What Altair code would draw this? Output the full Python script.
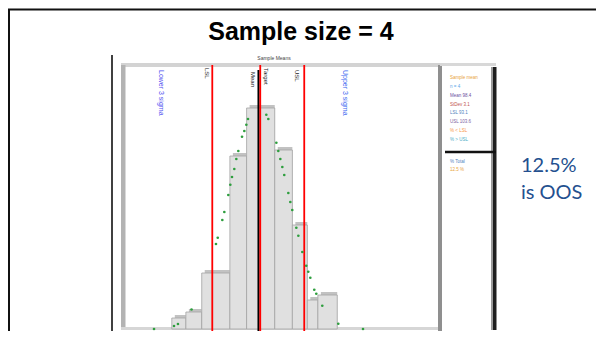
import altair as alt
import pandas as pd

bin_start = [88.5, 90.1, 91.9, 95.1, 97.0, 100.2, 102.2, 103.9, 105.1]
bin_end = [90.1, 91.9, 95.1, 97.0, 100.2, 102.2, 103.9, 105.1, 107.3]
counts = [5.5, 8.5, 28, 86.5, 110.5, 89.5, 52, 14.5, 17]

curve_x = [86.48, 88.75, 89.20, 90.74, 93.52, 93.72, 94.24, 94.47, 94.92, 95.15,
           95.34, 95.60, 95.83, 96.06, 96.48, 96.74, 96.97, 97.16, 99.24, 99.47,
           100.38, 100.60, 100.83, 101.06, 101.28, 101.74, 101.97, 102.19, 102.65,
           102.88, 103.33, 103.78, 104.01, 104.24, 104.69, 104.92, 105.60, 107.42,
           110.23]
curve_y = [0, 1.5, 2.5, 9.75, 42.5, 45.65, 54.5, 58.5, 67, 72.15,
           76, 80, 85, 89, 96.15, 99, 102.15, 105, 107.15, 105,
           93.15, 89, 85, 81, 77, 68, 63.5, 59.5, 50.65,
           46.65, 38.5, 31.65, 28.65, 25.65, 19.65, 17.65, 11.65, 2.65,
           0]

spec_labels = ["LSL", "Target", "USL"]
spec_values = [93.1, 98.55, 103.55]
mean_labels = ["Mean"]
mean_values = [98.35]
sigma_labels = ["Lower 3 sigma", "Upper 3 sigma"]
sigma_values = [87.3, 108.2]

title_text = "Sample size = 4"
note_lines = ["12.5%", "is OOS"]
legend_lines = ["Sample mean", "n = 4", "Mean 98.4", "StDev 3.1", "LSL 93.1",
                "USL 103.6", "% < LSL", "% > USL"]
legend_lines2 = ["% Total", "12.5 %"]
legend_colors = ["#e8a33c", "#5aa8e8", "#6b4f9e", "#c0504d", "#4f81bd",
                 "#8064a2", "#f79646", "#4bacc6"]

# ---- tables ----
bars = pd.DataFrame({"start": bin_start, "end": bin_end, "count": counts})
curve = pd.DataFrame({"x": curve_x, "y": curve_y})
specs = pd.DataFrame({"label": spec_labels, "value": spec_values})
means = pd.DataFrame({"label": mean_labels, "value": mean_values})
sigmas = pd.DataFrame({"label": sigma_labels, "value": sigma_values})
one = pd.DataFrame({"d": [0]})
leg = pd.DataFrame({"t": legend_lines, "i": list(range(len(legend_lines))),
                    "c": legend_colors})

xs = alt.Scale(domain=[69.886, 136.705], nice=False, zero=False)
ys = alt.Scale(domain=[-1, 160.5], nice=False, zero=False)

base1 = alt.Chart(one)


def vrect(x1, x2, y1, y2, color):
    return base1.mark_rect(color=color).encode(
        x=alt.value(x1), x2=alt.value(x2), y=alt.value(y1), y2=alt.value(y2))


def vrule(x1, x2, y1, y2, color, w):
    return base1.mark_rule(color=color, strokeWidth=w).encode(
        x=alt.value(x1), x2=alt.value(x2), y=alt.value(y1), y2=alt.value(y2))


def vtext(txt, x, y, **kw):
    return base1.mark_text(**kw).encode(
        x=alt.value(x), y=alt.value(y), text=alt.value(txt))


# slide frame
slide_top = vrule(0, 588, 1.5, 1.5, "#111111", 2)
slide_left = vrule(1, 1, 1, 323, "#111111", 2)

title = vtext(title_text, 293, 32, font="Liberation Sans", fontWeight="bold",
              fontSize=25, color="#000000", align="center", baseline="alphabetic")

# histogram 3D frame
axis_line = vrule(104, 104, 47, 323, "#000000", 1.5)
wall_left = vrect(113, 117.5, 57, 321, "#b3b3b3")
wall_top = vrect(113, 432, 55, 59, "#d3d3d3")
floor = vrect(113, 432, 319, 322, "#d6d6d6")
wall_right = vrect(430, 434, 57, 323, "#8f8f8f")
panel_top = vrect(432, 488, 55, 58, "#d8d8d8")
panel_shade = vrect(483, 485, 59, 322, "#9a9a9a")
panel_right = vrect(485, 488.5, 59, 322, "#1e1e1e")
panel_line = vrule(437, 488, 144, 144, "#111111", 2.5)

small_title = vtext("Sample Means", 266, 50, fontSize=5, color="#444444",
                    align="center")

# bars
shadow = alt.Chart(bars).mark_bar(color="#c2c2c2", xOffset=3, yOffset=-3).encode(
    x=alt.X("start:Q", scale=xs, axis=None),
    x2="end:Q",
    y=alt.Y("count:Q", scale=ys, axis=None),
    y2=alt.datum(0),
)
main_bars = alt.Chart(bars).mark_bar(color="#e0e0e0", stroke="#a3a3a3",
                                     strokeWidth=0.8).encode(
    x=alt.X("start:Q", scale=xs, axis=None),
    x2="end:Q",
    y=alt.Y("count:Q", scale=ys, axis=None),
    y2=alt.datum(0),
)

# reference lines
mean_rule = alt.Chart(means).mark_rule(color="#000000", strokeWidth=2).encode(
    x=alt.X("value:Q", scale=xs, axis=None), y=alt.value(62), y2=alt.value(323))
spec_rule = alt.Chart(specs).mark_rule(color="#ff0000", strokeWidth=1.8).encode(
    x=alt.X("value:Q", scale=xs, axis=None), y=alt.value(57), y2=alt.value(323))

points = alt.Chart(curve).mark_circle(size=7, color="#2e9e3e", opacity=1).encode(
    x=alt.X("x:Q", scale=xs, axis=None),
    y=alt.Y("y:Q", scale=ys, axis=None),
)


# tiny rotated labels
def vlabel(df, label, dx, color, size, y0):
    return alt.Chart(df).transform_filter(alt.datum.label == label).mark_text(
        angle=90, align="left", baseline="middle", fontSize=size, color=color,
        dy=-dx).encode(
        x=alt.X("value:Q", scale=xs, axis=None), y=alt.value(y0),
        text="label:N")


lab_lsl = vlabel(specs, "LSL", -5, "#222222", 6, 60)
lab_tgt = vlabel(specs, "Target", 6, "#222222", 6, 60)
lab_usl = vlabel(specs, "USL", -7, "#222222", 6, 62)
lab_mean = vlabel(means, "Mean", -5, "#222222", 6, 64)
lab_sig1 = vlabel(sigmas, "Lower 3 sigma", 0, "#5050f0", 7, 62)
lab_sig2 = vlabel(sigmas, "Upper 3 sigma", 0, "#3a66f0", 7, 62)

legend_text = alt.Chart(leg).mark_text(fontSize=4.5, align="left").encode(
    x=alt.value(442),
    y=alt.Y("i:O", scale=alt.Scale(range=[66, 136]), axis=None),
    text="t:N",
    color=alt.Color("c:N", scale=None),
)
legend_t1 = vtext(legend_lines2[0], 442, 154, fontSize=4.5, align="left",
                  color="#4f81bd")
legend_t2 = vtext(legend_lines2[1], 442, 162, fontSize=4.5, align="left",
                  color="#e8a33c")

note1 = vtext(note_lines[0], 513, 164, font="Lato", fontSize=20, color="#24508f",
              align="left", baseline="alphabetic")
note2 = vtext(note_lines[1], 513, 191, font="Lato", fontSize=20, color="#24508f",
              align="left", baseline="alphabetic")

chart = alt.layer(
    slide_top, slide_left, title,
    wall_top, wall_left, floor, wall_right, panel_top, panel_shade, panel_right,
    shadow, main_bars, mean_rule, spec_rule, points,
    axis_line, panel_line, small_title,
    lab_lsl, lab_tgt, lab_usl, lab_mean, lab_sig1, lab_sig2,
    legend_text, legend_t1, legend_t2, note1, note2,
).resolve_scale(y="independent").properties(
    width=588, height=323, padding=0,
    autosize=alt.AutoSizeParams(type="none"),
).configure_view(stroke=None)

chart.save("out.html", embed_options={"renderer": "svg", "actions": False})
